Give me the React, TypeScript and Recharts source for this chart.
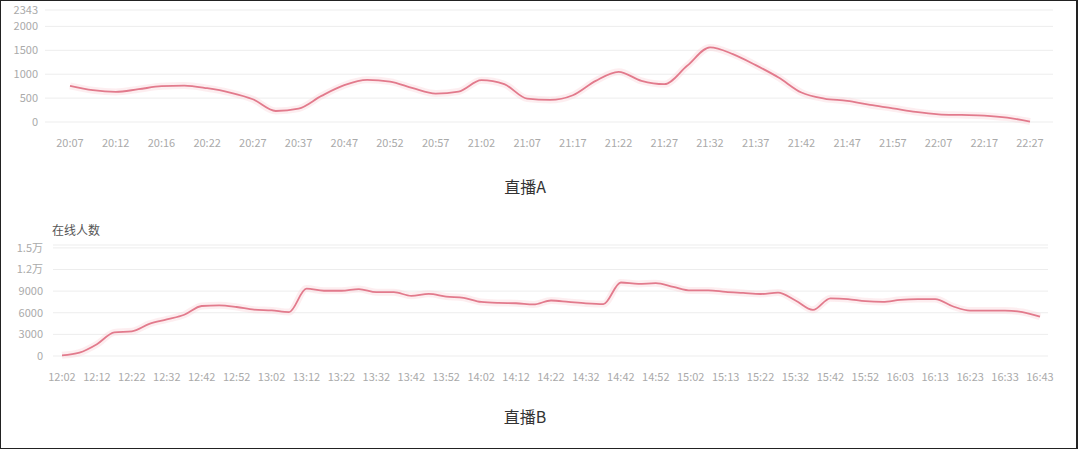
import React from 'react';
import { LineChart, Line, XAxis, YAxis, CartesianGrid } from 'recharts';

// 直播A: labelled times sit on even indices, odd ones are in-between samples
const timesA = [
  '20:07', '20:09', '20:12', '20:14', '20:16', '20:19', '20:22', '20:24', '20:27', '20:32',
  '20:37', '20:42', '20:47', '20:49', '20:52', '20:54', '20:57', '20:59', '21:02', '21:04',
  '21:07', '21:12', '21:17', '21:19', '21:22', '21:24', '21:27', '21:29', '21:32', '21:34',
  '21:37', '21:39', '21:42', '21:44', '21:47', '21:52', '21:57', '22:02', '22:07', '22:12',
  '22:17', '22:22', '22:27',
];
const viewersA = [
  756, 665, 630, 686, 749, 763, 707, 616, 476, 230,
  280, 546, 770, 882, 845, 707, 595, 637, 875, 791,
  490, 462, 560, 861, 1050, 861, 791, 1176, 1561, 1421,
  1190, 931, 616, 490, 441, 357, 287, 210, 161, 147,
  133, 91, 10,
];
const ticksA = [0, 500, 1000, 1500, 2000, 2343];

// 直播B
const timesB = [
  '12:02', '12:07', '12:12', '12:17', '12:22', '12:27', '12:32', '12:37', '12:42', '12:47',
  '12:52', '12:57', '13:02', '13:07', '13:12', '13:17', '13:22', '13:27', '13:32', '13:37',
  '13:42', '13:47', '13:52', '13:57', '14:02', '14:07', '14:12', '14:17', '14:22', '14:27',
  '14:32', '14:37', '14:42', '14:47', '14:52', '14:57', '15:02', '15:07', '15:13', '15:17',
  '15:22', '15:27', '15:32', '15:37', '15:42', '15:47', '15:52', '15:57', '16:03', '16:08',
  '16:13', '16:18', '16:23', '16:28', '16:33', '16:38', '16:43',
];
const viewersB = [
  100, 470, 1640, 3280, 3420, 4450, 5070, 5720, 6940, 7030,
  6800, 6430, 6330, 6100, 9350, 9050, 9050, 9290, 8850, 8850,
  8350, 8630, 8250, 8070, 7500, 7360, 7320, 7150, 7700, 7500,
  7300, 7200, 10200, 10000, 10100, 9600, 9100, 9100, 8900, 8750,
  8600, 8800, 7700, 6400, 8000, 7900, 7600, 7500, 7800, 7900,
  7900, 6900, 6300, 6300, 6300, 6100, 5450,
];
const ticksB = [0, 3000, 6000, 9000, 12000, 15000, 15400];

const dataA = timesA.map((t, i) => ({ time: t, value: viewersA[i] }));
const dataB = timesB.map((t, i) => ({ time: t, value: viewersB[i] }));

const FONT = '"Noto Sans CJK SC", "Noto Sans", sans-serif';
const LINE = '#e27a8c';
const GLOW = '#f8cdd5';
const tickStyle = { fontSize: 11, fill: '#aaaaaa', fontFamily: FONT };

const formatB = (v: number) => {
  if (v === 15400) return '';
  if (v >= 10000) return `${v / 10000}万`;
  return `${v}`;
};

export default function App() {
  return (
    <div style={{ position: 'absolute', left: 0, top: 0, width: 1080, height: 450, background: '#fff', fontFamily: FONT }}>
      <div style={{ position: 'absolute', left: 0, top: 0 }}>
        <LineChart width={1080} height={160} data={dataA} margin={{ top: 10, right: 27, left: 0, bottom: 0 }}>
          <CartesianGrid vertical={false} stroke='#ededed' />
          <XAxis
            dataKey='time'
            interval={1}
            axisLine={false}
            tickLine={false}
            tick={tickStyle}
            tickMargin={11}
            height={38}
            padding={{ left: 25, right: 23 }}
          />
          <YAxis
            width={45}
            domain={[0, 2343]}
            ticks={ticksA}
            interval={0}
            axisLine={false}
            tickLine={false}
            tick={tickStyle}
            tickMargin={1}
          />
          <Line type='monotone' dataKey='value' stroke={GLOW} strokeOpacity={0.35} strokeWidth={7} dot={false} activeDot={false} isAnimationActive={false} />
          <Line type='monotone' dataKey='value' stroke={LINE} strokeWidth={1.8} dot={false} isAnimationActive={false} />
        </LineChart>
      </div>
      <div style={{ position: 'absolute', left: 0, width: 1050, top: 174, textAlign: 'center', fontSize: 16, color: '#333' }}>直播A</div>

      <div style={{ position: 'absolute', left: 52, top: 221, fontSize: 12, color: '#555' }}>在线人数</div>
      <div style={{ position: 'absolute', left: 0, top: 230 }}>
        <LineChart width={1080} height={170} data={dataB} margin={{ top: 15, right: 32, left: 0, bottom: 0 }}>
          <CartesianGrid vertical={false} stroke='#ededed' />
          <XAxis
            dataKey='time'
            interval={1}
            axisLine={false}
            tickLine={false}
            tick={tickStyle}
            tickMargin={11}
            height={44}
            padding={{ left: 9, right: 8 }}
          />
          <YAxis
            width={53}
            domain={[0, 15400]}
            ticks={ticksB}
            interval={0}
            tickFormatter={formatB}
            axisLine={false}
            tickLine={false}
            tick={tickStyle}
            tickMargin={4}
          />
          <Line type='monotone' dataKey='value' stroke={GLOW} strokeOpacity={0.35} strokeWidth={7} dot={false} activeDot={false} isAnimationActive={false} />
          <Line type='monotone' dataKey='value' stroke={LINE} strokeWidth={1.8} dot={false} isAnimationActive={false} />
        </LineChart>
      </div>
      <div style={{ position: 'absolute', left: 0, width: 1050, top: 404, textAlign: 'center', fontSize: 16, color: '#333' }}>直播B</div>

      <div style={{ position: 'absolute', left: 0, top: 0, width: 1078, height: 449, border: '1px solid #222', borderRightWidth: 2, boxSizing: 'border-box', pointerEvents: 'none' }} />
    </div>
  );
}
